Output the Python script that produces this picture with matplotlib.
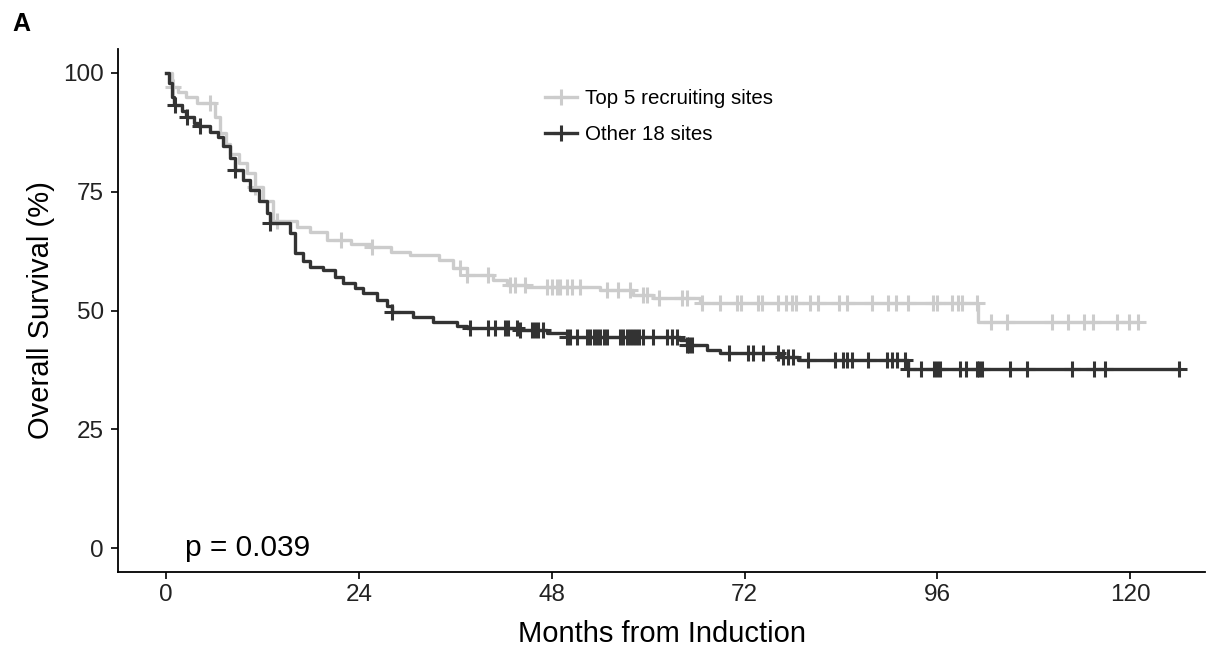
import numpy as np
import matplotlib
matplotlib.use("Agg")
import matplotlib.pyplot as plt
from matplotlib.lines import Line2D

plt.rcParams["font.family"] = ["Liberation Sans", "DejaVu Sans"]

# Kaplan-Meier steps (months, % surviving after the drop)
top5_time = [0, 0.7, 1.5, 2.5, 3.8, 6.1, 6.7, 7.5, 8.0, 9.0, 10.0, 11.0, 12.0, 13.3,
             16.3, 17.9, 20.0, 23.0, 25.4, 28.0, 30.3, 34.0, 35.7, 37.4, 40.7, 42.4,
             44.9, 54.0, 58.1, 60.6, 66.4, 101.0]
top5_surv = [100, 97.0, 96.0, 95.0, 93.6, 90.7, 87.4, 85.0, 83.0, 81.0, 79.0, 76.0, 73.0, 68.8,
             67.5, 66.6, 64.8, 64.0, 63.4, 62.4, 61.7, 60.6, 58.9, 57.5, 56.4, 55.4,
             54.9, 54.3, 53.3, 52.6, 51.6, 47.6]
top5_censor = [0.8, 5.5, 11.0, 13.8, 21.8, 25.6, 36.6, 37.4, 40.0, 42.8, 43.4, 44.7,
               47.4, 48.0, 48.6, 49.0, 49.9, 50.5, 51.5, 54.9, 56.2, 57.7, 59.3, 59.8,
               61.4, 64.2, 64.8, 66.7, 68.9, 71.0, 71.6, 73.6, 74.1, 76.1, 77.2, 77.9,
               78.4, 80.1, 81.1, 83.8, 84.7, 87.9, 89.8, 90.9, 92.3, 95.4, 96.0, 97.8,
               98.5, 99.0, 100.9, 102.7, 104.6, 110.3, 112.2, 114.3, 115.3, 118.4,
               119.9, 120.9]

other_time = [0, 0.4, 0.7, 1.0, 2.0, 2.5, 3.5, 4.0, 5.5, 6.5, 7.1, 8.0, 8.6, 9.5, 10.4,
              11.5, 12.5, 12.9, 15.4, 16.0, 17.0, 17.9, 19.5, 21.0, 22.0, 23.5, 24.5,
              26.2, 27.5, 28.1, 30.7, 33.2, 36.2, 37.4, 44.0, 47.4, 49.9, 63.9, 64.8,
              67.3, 68.9, 76.4, 78.6, 92.3]
other_surv = [100, 97.8, 95.0, 93.3, 92.0, 90.8, 89.5, 88.7, 87.6, 86.5, 84.5, 82.0, 79.6,
              77.5, 75.4, 73.0, 70.5, 68.4, 66.3, 62.1, 60.5, 59.2, 58.5, 57.0, 55.8,
              54.7, 53.7, 52.2, 51.0, 49.7, 48.7, 47.6, 46.7, 46.4, 45.9, 45.3, 44.5,
              43.8, 42.7, 41.7, 41.0, 40.3, 39.6, 37.7]
other_censor = [1.1, 2.6, 4.2, 8.6, 12.9, 28.1, 37.8, 40.1, 40.9, 42.2, 42.5, 43.7, 44.0,
                45.5, 45.9, 46.3, 46.9, 49.9, 50.2, 51.1, 52.4, 52.8, 53.2, 53.6, 54.0,
                54.5, 54.9, 56.5, 56.9, 57.3, 57.7, 58.1, 58.5, 58.9, 59.3, 60.6, 62.3,
                62.9, 63.6, 64.8, 65.1, 65.5, 70.1, 72.4, 73.0, 74.3, 76.1, 76.8, 77.4,
                78.0, 79.9, 83.2, 84.2, 84.8, 85.4, 87.3, 89.7, 90.3, 91.0, 91.9, 92.3,
                94.0, 95.6, 96.0, 96.3, 98.8, 99.6, 100.9, 101.2, 101.6, 105.0, 107.1,
                112.7, 115.5, 116.8, 126.1]

labels = ["Top 5 recruiting sites", "Other 18 sites"]
colors = ["#cccccc", "#333333"]


def surv_at(times, surv, t):
    idx = np.searchsorted(times, t, side="right") - 1
    return np.asarray(surv)[idx]


fig = plt.figure(figsize=(12.08, 6.48), dpi=100)
ax = fig.add_axes([118 / 1208, 1 - 572 / 648, (1205 - 118) / 1208, (572 - 49) / 648])

groups = [(top5_time, top5_surv, top5_censor), (other_time, other_surv, other_censor)]
for (t, s, c), col in zip(groups, colors):
    t_end = max(max(t), max(c))
    ax.step(list(t) + [t_end], list(s) + [s[-1]], where="post", color=col, lw=2.4)
    ax.plot(c, surv_at(t, s, c), ls="none", marker="+", ms=11, mew=2.2, color=col)

ax.set_xlim(-6, 129.3)
ax.set_ylim(-5, 105)
ax.set_xticks([0, 24, 48, 72, 96, 120])
ax.set_yticks([0, 25, 50, 75, 100])
ax.tick_params(labelsize=17.5, length=5, width=1.2, colors="black", labelcolor="#222222")
ax.tick_params(axis="y", pad=5)
for side in ["top", "right"]:
    ax.spines[side].set_visible(False)
for side in ["left", "bottom"]:
    ax.spines[side].set_linewidth(1.3)

ax.set_xlabel("Months from Induction", fontsize=21, labelpad=10)
ax.set_ylabel("Overall Survival (%)", fontsize=21, labelpad=6)

ax.text(2.4, 0, "p = 0.039", fontsize=21.5, ha="left", va="center")

handles = [Line2D([], [], color=col, lw=2.4, marker="+", ms=11, mew=2.2) for col in colors]
ax.legend(handles, labels, loc="upper left", bbox_to_anchor=(0.3928, 0.9235), frameon=False,
          fontsize=14.8, handlelength=1.55, handletextpad=0.4, labelspacing=0.85,
          borderpad=0, borderaxespad=0)

fig.text(12 / 1208, 1 - 12 / 648, "A", fontsize=18, fontweight="bold", ha="left", va="top")

fig.savefig("out.png", dpi=100)
